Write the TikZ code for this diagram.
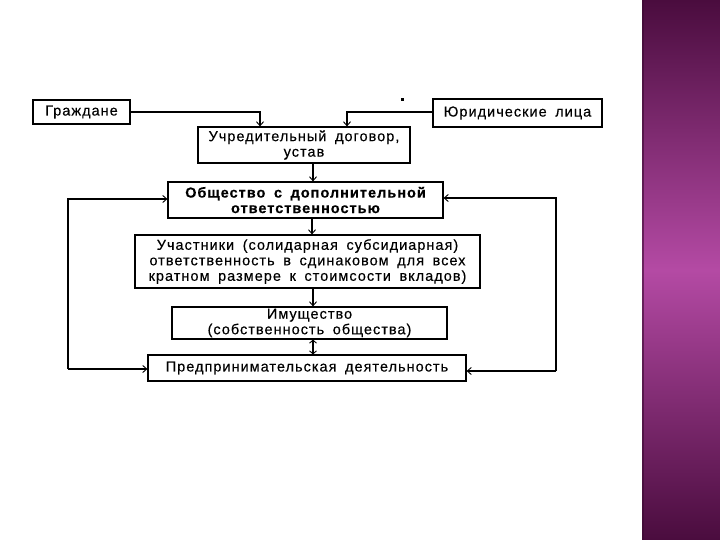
\documentclass[tikz,border=0pt]{standalone}
\usepackage{fontspec}
\setmainfont{Liberation Sans}
\newfontfamily\diagfont[LetterSpace=7,WordSpace=1.7,FakeBold=0.3]{Liberation Sans}
\newfontfamily\diagbold[LetterSpace=7,WordSpace=1.7,FakeBold=0.4]{Liberation Sans Bold}
\usetikzlibrary{arrows.meta}
\definecolor{pdark}{HTML}{4A0C3E}
\definecolor{pmid}{HTML}{B44AA4}
\begin{document}
\begin{tikzpicture}[x=1pt,y=-1pt,
  box/.style={draw,line width=1.2pt,inner sep=0pt,align=center,
    font=\diagfont\fontsize{14.5}{15.5}\selectfont},
  ln/.style={line width=1.1pt},
  tip/.style={-{Straight Barb[length=4pt,width=7pt,line width=0.9pt]}}
]
\useasboundingbox (0,0) rectangle (720,540);
\fill[white] (0,0) rectangle (720,540);
% purple band
\shade[top color=pdark,bottom color=pmid] (642,0) rectangle (720,270);
\shade[top color=pmid,bottom color=pdark] (642,270) rectangle (720,540);
\fill[pdark!80!black,opacity=0.6] (642,0) rectangle (644,540);

\node[box,minimum width=97pt,minimum height=24pt] (gr) at (81.5,112) {Граждане};
\node[box,minimum width=169pt,minimum height=28pt] (ur) at (517.5,113) {Юридические лица};
\node[box,minimum width=212pt,minimum height=36pt] (uch) at (304,145) {Учредительный договор,\\устав};
\node[box,minimum width=275pt,minimum height=36pt,font=\diagbold\fontsize{14.5}{15.5}\selectfont] (ob) at (305.5,200) {Общество с дополнительной\\ответственностью};
\node[box,minimum width=345pt,minimum height=53pt] (us) at (307.5,261.5) {Участники (солидарная субсидиарная)\\ответственность в сдинаковом для всех\\кратном размере к стоимсости вкладов)};
\node[box,minimum width=275pt,minimum height=32pt] (im) at (309.5,323) {Имущество\\(собственность общества)};
\node[box,minimum width=318pt,minimum height=26pt] (pr) at (307,368) {Предпринимательская деятельность};

\coordinate (ga) at (260,112);
\coordinate (ua) at (347,112);
\draw[ln,tip] (gr.east |- ga) -- (ga) -- (ga |- uch.north);
\draw[ln,tip] (ur.west |- ua) -- (ua) -- (ua |- uch.north);
\draw[ln,tip] (313,0 |- uch.south) -- (313,0 |- ob.north);
\draw[ln,tip] (312,0 |- ob.south) -- (312,0 |- us.north);
\draw[ln,tip] (313,0 |- us.south) -- (313,0 |- im.north);
\draw[ln,{Straight Barb[length=3pt,width=7pt,line width=0.9pt]}-{Straight Barb[length=3pt,width=7pt,line width=0.9pt]}] (313,0 |- im.south) -- (313,0 |- pr.north);

\coordinate (l1) at (68,199);
\coordinate (l2) at (68,369);
\draw[ln,tip] (l2) -- (l1) -- (ob.west |- l1);
\draw[ln,tip] (l2) -- (pr.west |- l2);
\coordinate (r1) at (556,198);
\coordinate (r2) at (556,371);
\draw[ln,tip] (r2) -- (r1) -- (ob.east |- r1);
\draw[ln,tip] (r2) -- (pr.east |- r2);

\fill (400.5,98.5) rectangle (403.5,101.5);
\end{tikzpicture}
\end{document}
